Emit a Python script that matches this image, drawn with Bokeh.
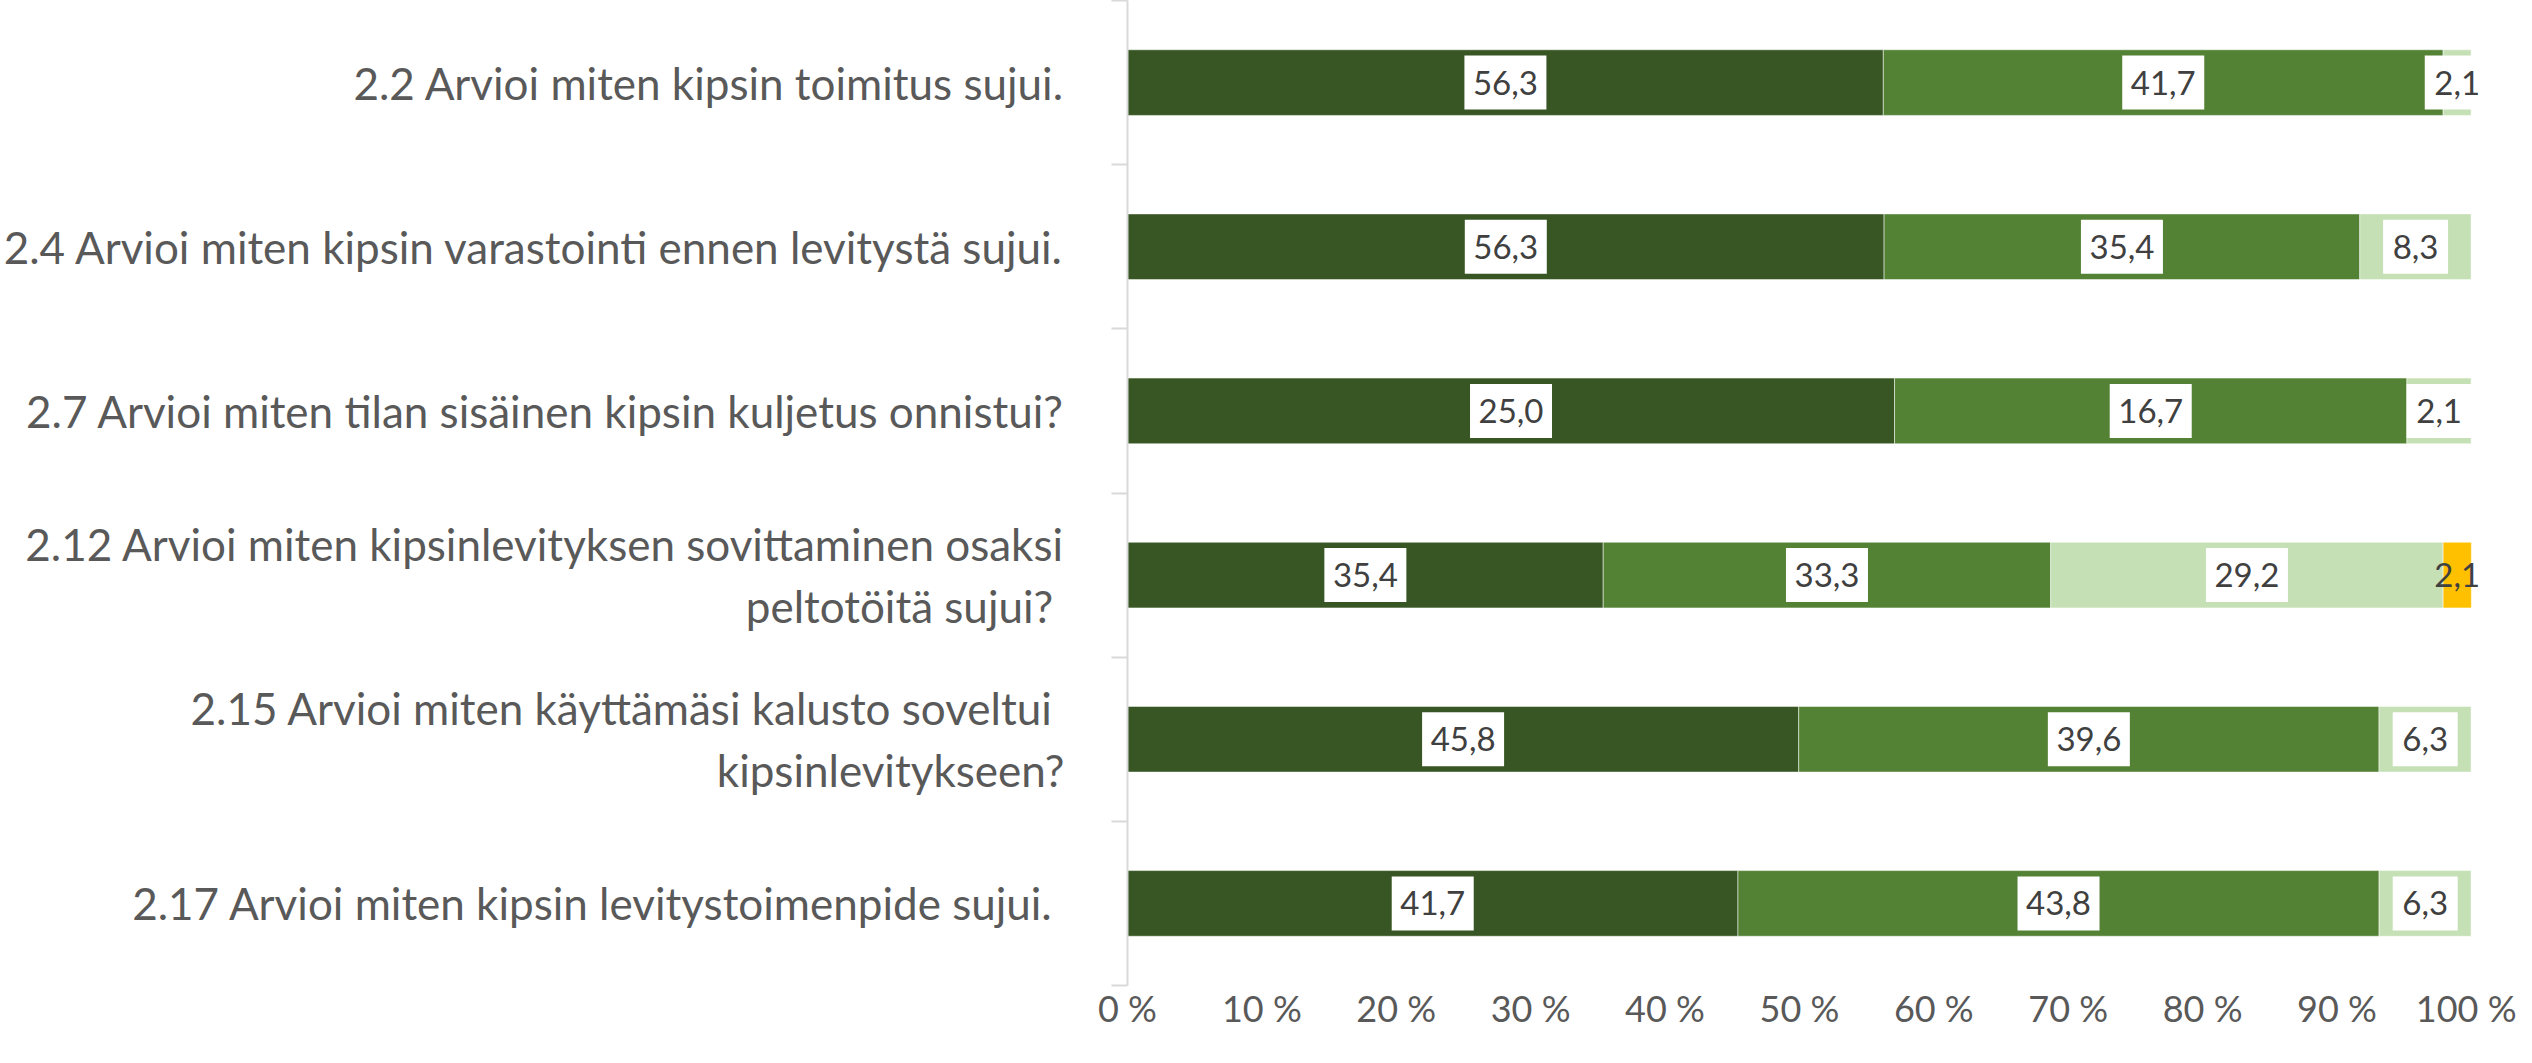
from bokeh.plotting import figure
from bokeh.models import ColumnDataSource, FixedTicker, Range1d
from bokeh.core.properties import value
from bokeh.embed import file_html
from bokeh.resources import INLINE

categories = [
    "2.2 Arvioi miten kipsin toimitus sujui.",
    "2.4 Arvioi miten kipsin varastointi ennen levitystä sujui.",
    "2.7 Arvioi miten tilan sisäinen kipsin kuljetus onnistui?",
    "2.12 Arvioi miten kipsinlevityksen sovittaminen osaksi\npeltotöitä  sujui?",
    "2.15 Arvioi miten käyttämäsi kalusto  soveltui\nkipsinlevitykseen?",
    "2.17 Arvioi miten kipsin levitystoimenpide  sujui.",
]
series1 = [56.3, 56.3, 25.0, 35.4, 45.8, 41.7]
series2 = [41.7, 35.4, 16.7, 33.3, 39.6, 43.8]
series3 = [2.1, 8.3, 2.1, 29.2, 6.3, 6.3]
series4 = [0.0, 0.0, 0.0, 2.1, 0.0, 0.0]
x_ticks = [0, 10, 20, 30, 40, 50, 60, 70, 80, 90, 100]
x_tick_labels = ["0 %", "10 %", "20 %", "30 %", "40 %", "50 %", "60 %", "70 %", "80 %", "90 %", "100 %"]
colors = ["#375623", "#548235", "#C5E0B4", "#FFC000"]

n = len(categories)
ys = [n - i - 0.5 for i in range(n)]
bounds = [float(i) for i in range(n + 1)]
all_series = [series1, series2, series3, series4]
totals = [sum(s[i] for s in all_series) for i in range(n)]

p = figure(width=2516, height=1047, output_backend="svg", toolbar_location=None,
           x_range=Range1d(0, 101.5), y_range=Range1d(0, n),
           min_border_left=1122, min_border_right=25, min_border_top=0, min_border_bottom=62)
p.outline_line_color = None
p.xgrid.grid_line_color = None
p.ygrid.grid_line_color = None
p.background_fill_color = "white"
p.border_fill_color = "white"

lefts = [0.0] * n
label_sets = []
for k, s in enumerate(all_series):
    rights = [lefts[i] + s[i] / totals[i] * 100 for i in range(n)]
    src = ColumnDataSource(dict(y=ys, left=lefts, right=rights))
    p.hbar(y="y", left="left", right="right", height=0.4, source=src,
           fill_color=colors[k], line_color="white", line_alpha=0.5, line_width=1)
    keep = [i for i in range(n) if s[i] > 0]
    txt = [("%.1f" % s[i]).replace(".", ",") for i in keep]
    lsrc = ColumnDataSource(dict(x=[(lefts[i] + rights[i]) / 2 for i in keep],
                                 y=[ys[i] for i in keep],
                                 txt=txt,
                                 w=[17 * (len(t) - 1) + 31 for t in txt]))
    label_sets.append((k, lsrc))
    lefts = rights

for k, lsrc in label_sets:
    if k < 3:
        p.rect(x="x", y="y", width="w", height=54, width_units="screen", height_units="screen",
               source=lsrc, fill_color="white", line_color=None)
    p.text(x="x", y="y", text="txt", source=lsrc, text_align="center", text_baseline="middle",
           text_font=value("Lato"), text_font_size="33px", text_color="#404040")

yax = p.yaxis[0]
yax.ticker = FixedTicker(ticks=ys, minor_ticks=bounds)
yax.major_label_overrides = {ys[i]: categories[i] for i in range(n)}
yax.axis_line_color = "#d9d9d9"
yax.axis_line_width = 2
yax.major_tick_out = 0
yax.major_tick_in = 0
yax.minor_tick_out = 16
yax.minor_tick_in = 0
yax.minor_tick_line_color = "#d9d9d9"
yax.minor_tick_line_width = 2
yax.major_label_standoff = 47
yax.major_label_text_font = "Lato"
yax.major_label_text_font_size = "44px"
yax.major_label_text_color = "#595959"

xax = p.xaxis[0]
xax.ticker = FixedTicker(ticks=x_ticks)
xax.major_label_overrides = {x_ticks[i]: x_tick_labels[i] for i in range(len(x_ticks))}
xax.axis_line_color = None
xax.major_tick_line_color = None
xax.minor_tick_line_color = None
xax.major_tick_out = 0
xax.major_tick_in = 0
xax.major_label_standoff = 0
xax.major_label_text_font = "Lato"
xax.major_label_text_font_size = "36px"
xax.major_label_text_color = "#595959"

open("out.html", "w").write(file_html(p, INLINE))
